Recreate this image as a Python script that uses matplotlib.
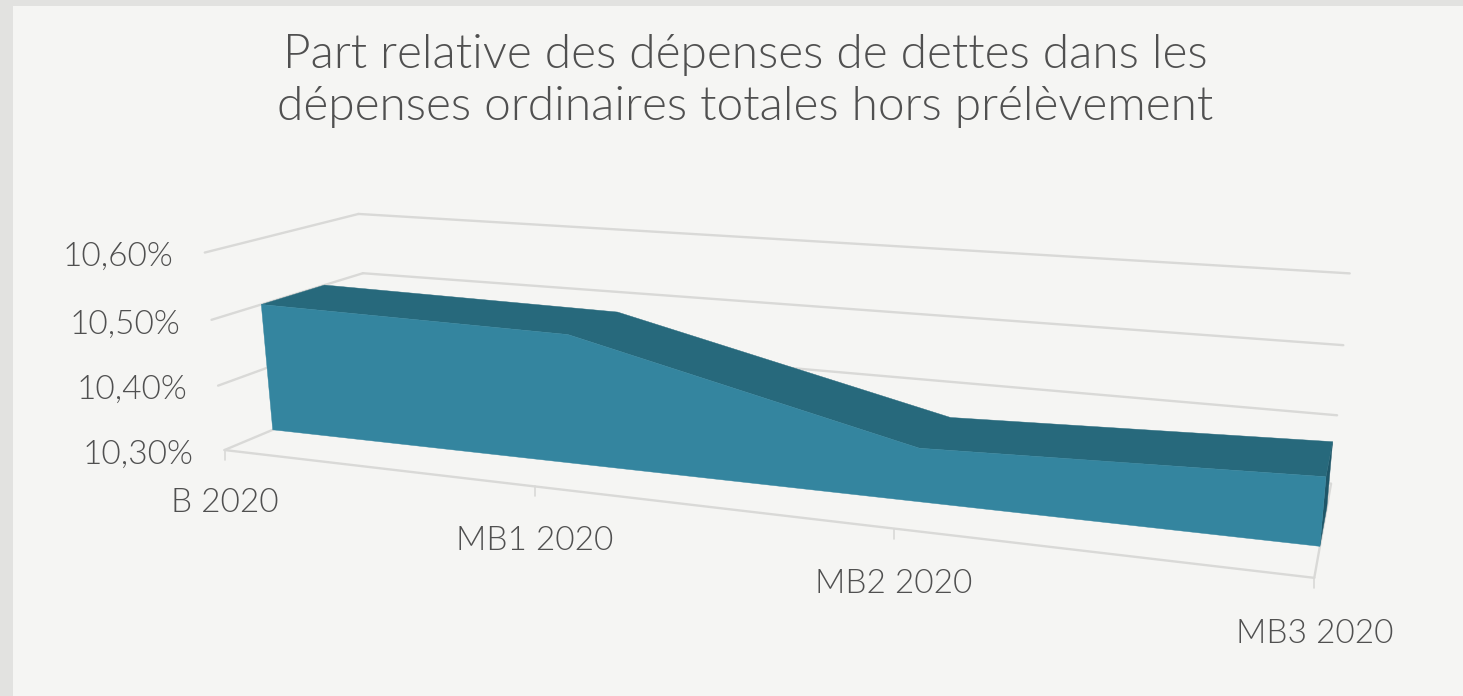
import numpy as np
import matplotlib
matplotlib.use("Agg")
import matplotlib.pyplot as plt
from matplotlib.patches import Polygon, Rectangle

# values
categories = ["B 2020", "MB1 2020", "MB2 2020", "MB3 2020"]
values = [10.50, 10.493, 10.376, 10.392]
y_ticks = [10.30, 10.40, 10.50, 10.60]
y_labels = ["10,30%", "10,40%", "10,50%", "10,60%"]
title = "Part relative des dépenses de dettes dans les\ndépenses ordinaires totales hors prélèvement"

FRONT = "#34859f"
TOP = "#27697c"
SIDE = "#1f5668"
GRID = "#d9d9d7"
TEXT = "#505050"
plt.rcParams["font.family"] = ["Lato", "DejaVu Sans"]

# 3D box of the chart: (category, value, depth) -> pixel, perspective fit from its visible corners
cam_in = [(0, 10.3, 0), (3, 10.3, 0), (0, 10.3, 1), (3, 10.3, 1),
          (0, 10.6, 0), (0, 10.6, 1), (3, 10.6, 1),
          (0, 10.5, 0), (0, 10.5, 1), (3, 10.5, 1),
          (0, 10.4, 0), (3, 10.4, 1), (1, 10.3, 0), (2, 10.3, 0)]
cam_out = [(224, 449), (1315, 578), (372, 391), (1331, 482),
           (205, 254), (358, 213), (1350, 274),
           (212, 320), (363, 272), (1343, 346),
           (218, 384), (1337, 415), (535, 487), (893, 529)]
rows = []
for (c, v, d), (px, py) in zip(cam_in, cam_out):
    p = [c, (v - 10.3) / 0.3, d, 1]
    rows.append(p + [0, 0, 0, 0] + [-px * q for q in p])
    rows.append([0, 0, 0, 0] + p + [-py * q for q in p])
cam = np.linalg.svd(np.array(rows, dtype=float))[2][-1].reshape(3, 4)


def proj(c, v, d):
    x, y, w = cam @ np.array([c, (v - 10.3) / 0.3, d, 1.0])
    return x / w, y / w


fig = plt.figure(figsize=(14.63, 6.96), dpi=100, facecolor="#e2e2e0")
ax = fig.add_axes([0, 0, 1, 1])
ax.set_xlim(0, 1463)
ax.set_ylim(696, 0)
ax.axis("off")
ax.add_patch(Rectangle((13, 6), 1450, 690, fc="#f5f5f3", ec="none", zorder=0))


def line(a, b, z=1, lw=1.7):
    ax.plot([a[0], b[0]], [a[1], b[1]], color=GRID, lw=lw, zorder=z, solid_capstyle="round")


last = len(categories) - 1
for v in y_ticks:
    line(proj(0, v, 0), proj(0, v, 1))
    line(proj(0, v, 1), proj(last, v, 1))
line(proj(0, 10.3, 0), proj(last, 10.3, 0))
line(proj(last, 10.3, 0), proj(last, 10.3, 1))
for i in range(len(categories)):
    p = proj(i, 10.3, 0)
    line(p, (p[0], p[1] + 10), lw=1.2)

# area with its thickness
d0, d1 = 0.30, 0.72
idx = range(len(values))
top_front = [proj(i, values[i], d0) for i in idx]
top_back = [proj(i, values[i], d1) for i in idx]
floor_front = [proj(i, 10.3, d0) for i in idx]
ax.add_patch(Polygon([top_back[-1], proj(last, 10.3, d1), floor_front[-1], top_front[-1]],
                     fc=SIDE, ec=SIDE, lw=0.3, zorder=2))
ax.add_patch(Polygon(top_front + top_back[::-1], fc=TOP, ec=TOP, lw=0.3, zorder=3))
ax.add_patch(Polygon(top_front + [floor_front[-1], floor_front[0]], fc=FRONT, ec=FRONT, lw=0.3, zorder=4))

for v, lab in zip(y_ticks, y_labels):
    x, y = proj(0, v, 0)
    ax.text(x - 31, y + 4.5, lab, ha="right", va="center", color=TEXT, fontsize=24, fontweight=300)
for i, lab in enumerate(categories):
    x, y = proj(i, 10.3, 0)
    ax.text(x, y + 53 + 1.2 * i, lab, ha="center", va="center", color=TEXT, fontsize=24, fontweight=300)

ax.text(745, 81, title, ha="center", va="center", color=TEXT, fontsize=34.5, fontweight=300, linespacing=1.27)

fig.savefig("out.png", dpi=100, facecolor=fig.get_facecolor())
